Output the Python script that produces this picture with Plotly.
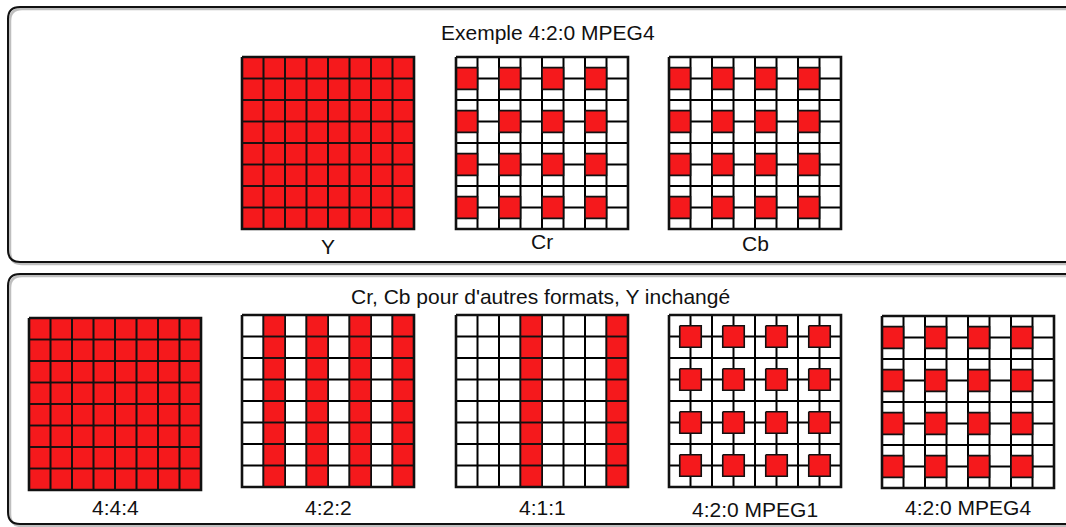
import plotly.graph_objects as go

# Chroma sample positions in cell units (left / top edge of each red sample)
full_cols = [0, 1, 2, 3, 4, 5, 6, 7]
full_rows = [0, 1, 2, 3, 4, 5, 6, 7]
cols_422 = [1, 3, 5, 7]
cols_411 = [3, 7]
mpeg1_cols = [0.5, 2.5, 4.5, 6.5]
mpeg1_rows = [0.5, 2.5, 4.5, 6.5]
mpeg4_cols = [0, 2, 4, 6]
mpeg4_rows = [0.5, 2.5, 4.5, 6.5]

top_title = "Exemple 4:2:0 MPEG4"
bottom_title = "Cr, Cb pour d'autres formats, Y inchangé"
top_labels = ["Y", "Cr", "Cb"]
bottom_labels = ["4:4:4", "4:2:2", "4:1:1", "4:2:0 MPEG1", "4:2:0 MPEG4"]

# label -> (sample columns, sample rows, grid kind)
schemes = {
    "Y": (full_cols, full_rows, "regular"),
    "Cr": (mpeg4_cols, mpeg4_rows, "mpeg4"),
    "Cb": (mpeg4_cols, mpeg4_rows, "mpeg4"),
    "4:4:4": (full_cols, full_rows, "regular"),
    "4:2:2": (cols_422, full_rows, "regular"),
    "4:1:1": (cols_411, full_rows, "regular"),
    "4:2:0 MPEG1": (mpeg1_cols, mpeg1_rows, "regular"),
    "4:2:0 MPEG4": (mpeg4_cols, mpeg4_rows, "mpeg4"),
}

W, H = 1066, 527
CELL = 21.5
N = 8
RED = "#f5191c"
FONT = "Liberation Sans, Arial, sans-serif"

# page placement of each grid (top-left corner) and of its caption
top_x = [242, 456, 669]
top_y = [57, 57, 57]
top_label_y = [246, 241, 243]
bottom_x = [29, 242, 456, 669, 882]
bottom_y = [318, 315, 315, 315, 316]
bottom_label_y = [507, 507, 507, 509, 507]


def grid_lines(x0, y0, kind):
    xs, ys = [], []
    size = N * CELL
    for i in range(N + 1):
        xs += [x0 + i * CELL, x0 + i * CELL, None]
        ys += [y0, y0 + size, None]
    if kind == "mpeg4":
        for r in range(0, N + 1, 2):
            xs += [x0, x0 + size, None]
            ys += [y0 + r * CELL, y0 + r * CELL, None]
        for c in range(N):
            cx0, cx1 = x0 + c * CELL, x0 + (c + 1) * CELL
            if c % 2:
                levels = [1, 3, 5, 7]
            else:
                levels = [k + 0.5 for k in range(N)]
            for lv in levels:
                xs += [cx0, cx1, None]
                ys += [y0 + lv * CELL, y0 + lv * CELL, None]
    else:
        for r in range(N + 1):
            xs += [x0, x0 + size, None]
            ys += [y0 + r * CELL, y0 + r * CELL, None]
    return xs, ys


def samples(x0, y0, cols, rows):
    xs, ys = [], []
    for c in cols:
        for r in rows:
            a, b = x0 + c * CELL, x0 + (c + 1) * CELL
            t, u = y0 + r * CELL, y0 + (r + 1) * CELL
            xs += [a, b, b, a, a, None]
            ys += [t, t, u, u, t, None]
    return xs, ys


def border(x0, y0):
    s = N * CELL
    return [x0, x0 + s, x0 + s, x0, x0], [y0, y0, y0 + s, y0 + s, y0]


def rounded(x0, y0, x1, y1, r):
    return (f"M {x0 + r},{y0} L {x1 - r},{y0} Q {x1},{y0} {x1},{y0 + r} "
            f"L {x1},{y1 - r} Q {x1},{y1} {x1 - r},{y1} L {x0 + r},{y1} "
            f"Q {x0},{y1} {x0},{y1 - r} L {x0},{y0 + r} Q {x0},{y0} {x0 + r},{y0} Z")


fig = go.Figure()

panels = list(zip(top_labels, top_x, top_y, top_label_y)) + \
    list(zip(bottom_labels, bottom_x, bottom_y, bottom_label_y))

gx, gy, sx, sy, bx, by = [], [], [], [], [], []
for name, x0, y0, ly in panels:
    cols, rows, kind = schemes[name]
    a, b = grid_lines(x0, y0, kind)
    gx += a
    gy += b
    a, b = samples(x0, y0, cols, rows)
    sx += a
    sy += b
    a, b = border(x0, y0)
    bx += a + [None]
    by += b + [None]
    fig.add_annotation(x=x0 + N * CELL / 2, y=ly, text=name, showarrow=False,
                       font=dict(family=FONT, size=21, color="#111"),
                       xanchor="center", yanchor="middle")

fig.add_trace(go.Scatter(x=gx, y=gy, mode="lines", hoverinfo="skip",
                         line=dict(color="#000", width=2)))
fig.add_trace(go.Scatter(x=sx, y=sy, mode="lines", fill="toself", fillcolor=RED,
                         hoverinfo="skip", line=dict(color="#111", width=1.6)))
fig.add_trace(go.Scatter(x=bx, y=by, mode="lines", hoverinfo="skip",
                         line=dict(color="#111", width=2.6)))

# rounded frames with a soft shadow
for y0, y1, title, tx, ty in [(7, 262, top_title, 548, 32),
                              (274, 524, bottom_title, 540, 296)]:
    fig.add_shape(type="path", path=rounded(10, y0 + 2, 1082, y1 + 2, 12),
                  line=dict(color="rgba(0,0,0,0.25)", width=2.5), layer="below")
    fig.add_shape(type="path", path=rounded(8, y0, 1080, y1, 12),
                  line=dict(color="#111", width=2), layer="below")
    fig.add_annotation(x=tx, y=ty, text=title, showarrow=False,
                       font=dict(family=FONT, size=21, color="#111"),
                       xanchor="center", yanchor="middle")

fig.update_layout(
    width=W, height=H,
    margin=dict(l=0, r=0, t=0, b=0),
    paper_bgcolor="white", plot_bgcolor="white",
    showlegend=False,
    xaxis=dict(range=[0, W], visible=False, fixedrange=True),
    yaxis=dict(range=[H, 0], visible=False, fixedrange=True),
)

fig.write_html("out.html", config={"displayModeBar": False},
               post_script="document.body.style.margin='0';"
                           "document.body.style.overflow='hidden';")
